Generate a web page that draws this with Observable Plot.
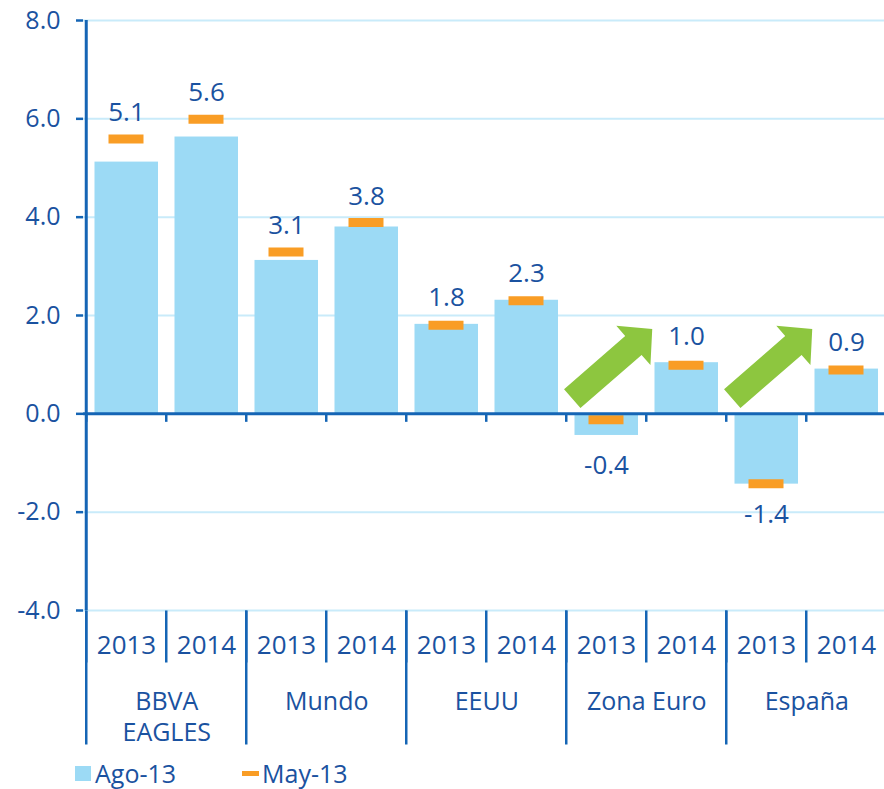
<!DOCTYPE html>
<html>
<head>
<meta charset="utf-8">
<script src="https://cdn.jsdelivr.net/npm/d3@7"></script>
<script src="https://cdn.jsdelivr.net/npm/@observablehq/plot@0.6"></script>
<style>
  html, body { margin: 0; padding: 0; background: #fff; overflow: hidden; }
  #chart { width: 884px; }
  .legend { position: relative; width: 884px; height: 29px; font-family: "Open Sans", sans-serif; font-size: 25px; color: #1a52a0; }
  .legend span { position: absolute; white-space: nowrap; line-height: 25px; }
  .sw1 { position: absolute; left: 75px; top: 6px; width: 16px; height: 15px; background: #9cdaf5; }
  .sw2 { position: absolute; left: 242px; top: 11px; width: 17px; height: 5px; background: #f99d25; }
</style>
</head>
<body>
<div id="chart"></div>
<div class="legend">
  <div class="sw1"></div><span style="left:95px;top:1px">Ago-13</span>
  <div class="sw2"></div><span style="left:262px;top:1px">May-13</span>
</div>
<script>
// ---- data ----
const groups = ["BBVA EAGLES", "Mundo", "EEUU", "Zona Euro", "España"];
const groupLabels = ["BBVA\nEAGLES", "Mundo", "EEUU", "Zona Euro", "España"];
const years = ["2013", "2014"];
const ago13 = [5.12, 5.63, 3.12, 3.80, 1.82, 2.31, -0.44, 1.04, -1.43, 0.91];
const may13 = [5.59, 5.99, 3.29, 3.89, 1.80, 2.30, -0.12, 0.99, -1.42, 0.89];
const yTicks = [-4, -2, 0, 2, 4, 6, 8];
const arrowGroups = ["Zona Euro", "España"];

// ---- styles ----
const textBlue = "#1a52a0";
const axisBlue = "#1565b5";
const gridBlue = "#c9ebfa";
const barBlue = "#9cdaf5";
const orange = "#f99d25";
const green = "#8dc63f";

const W = 884, H = 760, ML = 83, MR = -4, MT = 20, MB = 150;
const bw = (W - ML - MR) / (groups.length * years.length);

const rows = groups.flatMap((g, gi) => years.map((yr, yi) => ({
  key: g + "|" + yr, group: g, year: yr,
  ago: ago13[gi * 2 + yi], may: may13[gi * 2 + yi]
})));
const groupRows = groups.map((g, i) => ({key: g + "|2013", label: groupLabels[i]}));
const arrowRows = arrowGroups.map(g => ({key: g + "|2013"}));

const lineShape = {draw(ctx, l) { ctx.moveTo(0, 0); ctx.lineTo(0, -l); }};
const blockArrow = {
  draw(ctx, l) {
    const sw = 12.5, hw = 26, hl = 25;
    ctx.moveTo(-sw, 0);
    ctx.lineTo(-sw, -(l - hl));
    ctx.lineTo(-hw, -(l - hl));
    ctx.lineTo(0, -l);
    ctx.lineTo(hw, -(l - hl));
    ctx.lineTo(sw, -(l - hl));
    ctx.lineTo(sw, 0);
    ctx.closePath();
  }
};

const fmt = v => v.toFixed(1);

const chart = Plot.plot({
  width: W, height: H,
  marginLeft: ML, marginRight: MR, marginTop: MT, marginBottom: MB,
  style: {fontFamily: "Open Sans, sans-serif", background: "#fff", overflow: "visible"},
  x: {type: "band", domain: rows.map(d => d.key), padding: 0, label: null},
  y: {domain: [-4, 8], label: null},
  marks: [
    Plot.gridY(yTicks.filter(t => t !== 0), {stroke: gridBlue, strokeOpacity: 1, strokeWidth: 2}),
    Plot.barY(rows, {x: "key", y: "ago", fill: barBlue, insetLeft: 8.5, insetRight: 8}),
    Plot.tickY(rows, {x: "key", y: "may", stroke: orange, strokeWidth: 9, insetLeft: 22.5, insetRight: 22.5}),
    Plot.ruleY([0], {stroke: axisBlue, strokeWidth: 3}),
    // small ticks on the zero line at category boundaries
    Plot.vector(rows, {x: "key", y: 0, length: 8, rotate: 180, anchor: "start", shape: lineShape,
      stroke: axisBlue, strokeWidth: 2.5, strokeLinecap: "butt", dx: -bw / 2}),
    // left axis line
    Plot.ruleX([rows[0].key], {dx: -bw / 2, y1: -4, y2: 8, stroke: axisBlue, strokeWidth: 3}),
    Plot.axisY({ticks: yTicks, tickFormat: fmt, tickSize: 7, tickPadding: 16, stroke: axisBlue,
      strokeWidth: 2.5, fill: textBlue, fontSize: 25, label: null}),
    // year separators
    Plot.vector(rows, {x: "key", y: -4, length: 52, rotate: 180, anchor: "start", shape: lineShape,
      stroke: axisBlue, strokeWidth: 2.5, strokeLinecap: "butt", dx: -bw / 2}),
    // group separators
    Plot.vector(groupRows, {x: "key", y: -4, length: 134, rotate: 180, anchor: "start", shape: lineShape,
      stroke: axisBlue, strokeWidth: 2.5, strokeLinecap: "butt", dx: -bw / 2}),
    Plot.axisX({tickSize: 0, tickPadding: 25, tickFormat: k => k.split("|")[1], fill: textBlue, fontSize: 26, label: null}),
    Plot.text(groupRows, {x: "key", frameAnchor: "bottom", text: "label", dx: bw / 2, dy: 77,
      lineAnchor: "top", lineHeight: 1.24, fill: textBlue, fontSize: 25}),
    // value labels
    Plot.text(rows.filter(d => d.ago >= 0), {x: "key", y: d => Math.max(d.ago, d.may), text: d => fmt(d.ago),
      lineAnchor: "bottom", dy: -18, fill: textBlue, fontSize: 26}),
    Plot.text(rows.filter(d => d.ago < 0), {x: "key", y: d => Math.min(d.ago, d.may), text: d => fmt(d.ago),
      lineAnchor: "top", dy: 20, fill: textBlue, fontSize: 26}),
    // green arrows
    Plot.vector(arrowRows, {x: "key", y: 0.31, length: 106, rotate: 49, anchor: "start", shape: blockArrow,
      fill: green, stroke: "none", dx: -bw / 2 + 6})
  ]
});
document.getElementById("chart").appendChild(chart);
</script>
</body>
</html>
